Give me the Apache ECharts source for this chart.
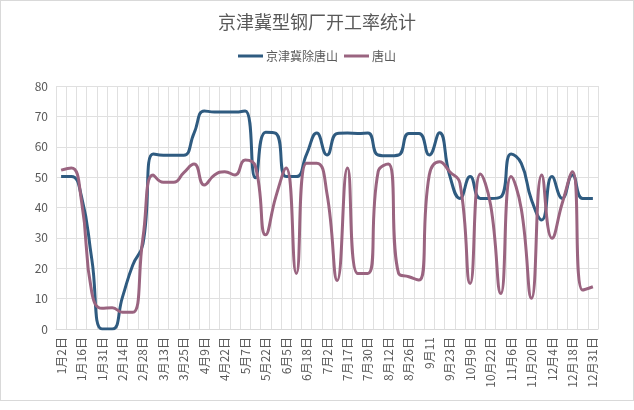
<!DOCTYPE html>
<html><head><meta charset="utf-8">
<script src="https://cdn.jsdelivr.net/npm/echarts@6/dist/echarts.min.js"></script>
<style>html,body{margin:0;padding:0;background:#fff}#c{width:634px;height:401px;box-sizing:border-box;border:1px solid #d9d9d9}</style>
</head><body><div id="c"></div>
<script>
const categories = ['1月2日','1月9日','1月16日','1月23日','1月31日','2月7日','2月14日','2月21日','2月28日','3月6日','3月13日','3月19日','3月25日','4月2日','4月9日','4月16日','4月22日','4月29日','5月7日','5月14日','5月22日','5月29日','6月5日','6月11日','6月18日','6月24日','7月2日','7月9日','7月17日','7月23日','7月30日','8月6日','8月12日','8月19日','8月26日','9月3日','9月11','9月17日','9月23日','9月30日','10月9日','10月15日','10月22日','10月29日','11月6日','11月13日','11月20日','11月27日','12月4日','12月11日','12月18日','12月25日','12月31日'];
const seriesA = [50.2,50.2,43.5,23,0,0,10.5,21,28,57.6,57.2,57.2,57.2,64.5,71.8,71.4,71.4,71.4,71.8,49.8,64.8,64.4,50.2,50.2,57.5,64.5,57.3,64.4,64.5,64.4,64.5,57.3,57,57.3,64.4,64.4,57.3,64.6,50.5,43,50.2,43,43,43.5,57.6,54.5,42.5,35.9,50.2,43,50.7,43,43];
const seriesB = [52.3,53,42,12,6.8,7,5.5,5.5,30,50.7,48.3,48.3,51.5,54.3,47.4,50.7,51.8,50.7,55.6,53.5,31,43.6,53,18.3,54.6,54.6,44.5,16,53,18.3,18.3,51.8,54.3,18.3,17.2,16.1,50.7,55.1,51.8,48,15,51,40.8,11.7,50.2,39.5,10.1,50.7,29.9,41.4,51.8,12.8,13.9];
const yTicks = [0,10,20,30,40,50,60,70,80];
const chart = echarts.init(document.getElementById('c'));
const txt = '#595959';
chart.setOption({
  animation:false,
  textStyle:{fontFamily:'"Noto Sans CJK SC","Noto Sans",sans-serif'},
  title:{text:'京津冀型钢厂开工率统计',left:'center',top:7,textStyle:{fontSize:18,fontWeight:'normal',color:txt,fontFamily:'"Noto Sans CJK SC",sans-serif'}},
  legend:{top:44,left:'center',itemWidth:25,itemHeight:3,itemGap:6,icon:'rect',textStyle:{color:txt,fontSize:12,padding:[0,0,0,-2]},data:['京津冀除唐山','唐山']},
  grid:{left:55,right:35,top:85,bottom:71,containLabel:false},
  xAxis:{type:'category',data:categories,boundaryGap:true,
    axisLine:{lineStyle:{color:'#d9d9d9'}},axisTick:{show:false},
    axisLabel:{interval:1,rotate:90,color:txt,fontSize:12,margin:8},
    splitLine:{show:true,interval:0,lineStyle:{color:'#e0e0e0'}}},
  yAxis:{type:'value',min:yTicks[0],max:yTicks[yTicks.length-1],interval:10,
    axisLine:{show:false},axisTick:{show:false},
    axisLabel:{color:txt,fontSize:12,margin:8},
    splitLine:{lineStyle:{color:'#e0e0e0'}}},
  series:[
    {name:'京津冀除唐山',type:'line',data:seriesA,smooth:true,symbol:'none',lineStyle:{width:3,color:'#2f5b80'},itemStyle:{color:'#2f5b80'}},
    {name:'唐山',type:'line',data:seriesB,smooth:true,symbol:'none',lineStyle:{width:3,color:'#9a6480'},itemStyle:{color:'#9a6480'}}
  ]
});
</script></body></html>
